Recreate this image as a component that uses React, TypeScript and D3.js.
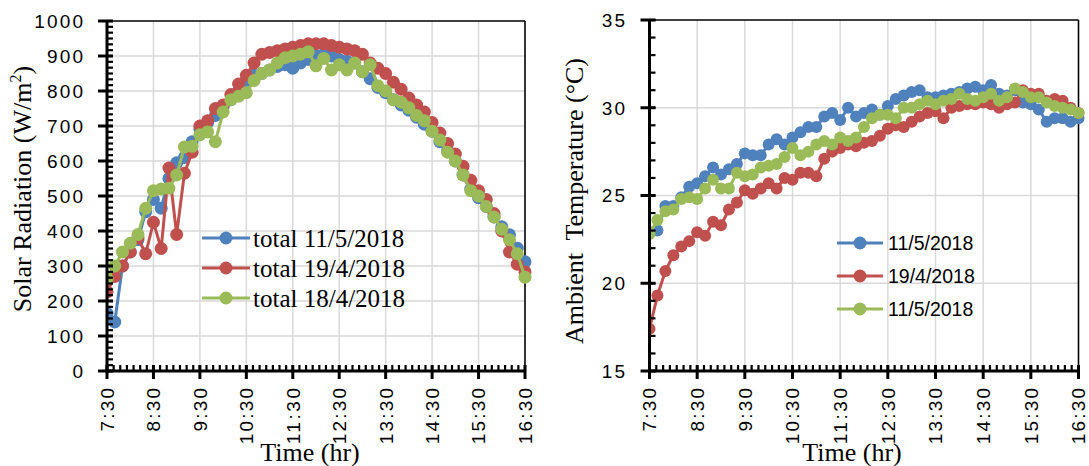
import React from 'react';
import * as d3 from 'd3';

const times = ["7:30","7:40","7:50","8:00","8:10","8:20","8:30","8:40","8:50","9:00","9:10","9:20","9:30","9:40","9:50","10:00","10:10","10:20","10:30","10:40","10:50","11:00","11:10","11:20","11:30","11:40","11:50","12:00","12:10","12:20","12:30","12:40","12:50","13:00","13:10","13:20","13:30","13:40","13:50","14:00","14:10","14:20","14:30","14:40","14:50","15:00","15:10","15:20","15:30","15:40","15:50","16:00","16:10","16:20","16:30"];

const radiation_11_5 = [165,140,300,340,375,455,490,465,550,595,610,655,690,710,730,755,775,800,830,845,850,860,870,875,865,880,890,900,905,900,890,885,880,855,835,810,795,775,760,745,725,705,685,655,630,600,560,520,495,470,440,412,389,351,312];
const radiation_19_4 = [226,270,300,340,380,335,425,350,580,390,565,625,700,715,750,760,790,820,845,880,905,910,915,920,925,930,935,935,935,930,925,920,915,905,880,865,850,825,805,780,760,740,710,680,650,620,585,545,515,490,450,400,340,305,283];
const radiation_18_4 = [265,300,340,365,390,465,515,520,522,560,640,642,675,683,655,740,775,785,795,830,850,860,880,895,900,905,912,872,893,860,875,860,880,855,875,815,800,775,768,752,730,715,685,660,625,600,560,515,500,470,440,405,375,335,268];

const temp_11_5 = [22.9,23.0,24.4,24.4,24.9,25.5,25.7,26.1,26.6,26.2,26.5,26.8,27.4,27.3,27.3,27.9,28.2,27.9,28.3,28.6,28.9,28.9,29.5,29.7,29.3,30.0,29.5,29.7,29.9,29.6,30.1,30.5,30.7,30.9,31.0,30.6,30.6,30.7,30.8,30.9,31.1,31.2,31.0,31.3,30.8,30.7,31.0,30.3,30.2,29.9,29.2,29.4,29.4,29.2,29.4];
const temp_19_4 = [17.4,19.3,20.7,21.6,22.1,22.4,22.9,22.7,23.5,23.3,24.2,24.6,25.3,25.1,25.4,25.7,25.4,26.0,25.9,26.3,26.3,26.1,27.1,27.5,27.7,27.9,27.8,28.0,28.1,28.4,28.8,29.0,28.9,29.2,29.5,29.7,29.8,29.4,30.0,30.1,30.2,30.2,30.3,30.2,30.0,30.2,30.3,31.0,30.8,30.8,30.4,30.5,30.4,30.0,29.7];
const temp_11_5b = [22.8,23.6,24.1,24.2,24.8,24.9,24.8,25.4,25.9,25.4,25.4,26.3,26.1,26.2,26.6,26.7,26.8,27.2,27.7,27.3,27.5,27.9,28.1,27.9,28.3,28.1,28.3,28.9,29.4,29.6,29.6,29.4,30.0,30.0,30.2,30.4,30.2,30.4,30.5,30.8,30.5,30.4,30.6,30.8,30.4,30.6,31.1,30.9,30.6,30.6,30.3,30.1,30.0,29.9,29.7];

const xTickLabels = ["7:30","8:30","9:30","10:30","11:30","12:30","13:30","14:30","15:30","16:30"];
const radTicks = [0,100,200,300,400,500,600,700,800,900,1000];
const tempTicks = [15,20,25,30,35];

const radLegend = ["total 11/5/2018","total 19/4/2018","total 18/4/2018"];
const tempLegend = ["11/5/2018","19/4/2018","11/5/2018"];
const colors = ["#4F81BD","#C0504D","#9BBB59"];

const toMin = (s: string) => { const [h, m] = s.split(':').map(Number); return h * 60 + m; };

const SANS = "'Liberation Sans', Arial, sans-serif";
const SERIF = "'Liberation Serif', 'Times New Roman', serif";
const TICK_FS = 19;

// widen tick labels slightly (reference glyphs are wider than Liberation Sans)
const tickLen = (s: string) => {
  let w = 0;
  for (const c of s) w += (c === ':' ? 0.278 : 0.556) * TICK_FS;
  return w + 2.2 * (s.length - 1);
};

type ChartProps = {
  id: string;
  x0: number; x1: number; top: number; bottom: number;
  domain: [number, number];
  ticks: number[];
  minorPerMajor: number;
  series: number[][];
  r: number;
  yLabelX: number;
  legend: { labels: string[]; rows: number[]; lx0: number; lx1: number; tx: number; font: string; size: number; base: number; r: number };
  yTitle: React.ReactNode;
  yTitleX: number; yTitleY: number;
  xTitleX: number;
};

function Chart(p: ChartProps) {
  const x = d3.scaleLinear().domain([toMin("7:30"), toMin("16:30")]).range([p.x0, p.x1]);
  const y = d3.scaleLinear().domain(p.domain).range([p.bottom, p.top]);
  const majorX = xTickLabels.map(toMin);
  const minorX: number[] = [];
  for (let k = 0; k <= 63; k++) minorX.push(toMin("7:30") + k * 60 / 7);
  const step = (p.ticks[1] - p.ticks[0]) / p.minorPerMajor;
  const minorY: number[] = [];
  for (let v = p.domain[0]; v <= p.domain[1] + 1e-9; v += step) minorY.push(v);
  const line = d3.line<number>().x((_, i) => x(toMin(times[i]))).y(d => y(d));
  const grid = "#d9d9d9";
  return (
    <g>
      <defs>
        <clipPath id={p.id}>
          <rect x={p.x0} y={p.top - 8} width={p.x1 - p.x0 + 8} height={p.bottom - p.top + 8} />
        </clipPath>
      </defs>
      {majorX.slice(1, -1).map((m, i) => (
        <line key={'gx' + i} x1={x(m)} x2={x(m)} y1={p.top} y2={p.bottom} stroke={grid} strokeWidth={1.5} />
      ))}
      {p.ticks.slice(1, -1).map((t, i) => (
        <line key={'gy' + i} x1={p.x0} x2={p.x1} y1={y(t)} y2={y(t)} stroke={grid} strokeWidth={1.5} />
      ))}
      <line x1={p.x0} x2={p.x1} y1={p.top} y2={p.top} stroke="#000" strokeWidth={1.6} />
      <line x1={p.x1} x2={p.x1} y1={p.top} y2={p.bottom} stroke="#000" strokeWidth={1.6} />
      {p.legend.labels.map((lab, i) => (
        <g key={'lg' + i}>
          <line x1={p.legend.lx0} x2={p.legend.lx1} y1={p.legend.rows[i]} y2={p.legend.rows[i]} stroke={colors[i]} strokeWidth={3} />
          <circle cx={(p.legend.lx0 + p.legend.lx1) / 2} cy={p.legend.rows[i]} r={p.legend.r} fill={colors[i]} />
          <text x={p.legend.tx} y={p.legend.rows[i] + p.legend.base} fontFamily={p.legend.font} fontSize={p.legend.size} fill="#000">{lab}</text>
        </g>
      ))}
      <g clipPath={`url(#${p.id})`}>
        {p.series.map((s, si) => (
          <g key={'s' + si}>
            <path d={line(s) || ''} fill="none" stroke={colors[si]} strokeWidth={3} strokeLinejoin="round" />
            {s.map((v, i) => (
              <circle key={i} cx={x(toMin(times[i]))} cy={y(v)} r={p.r} fill={colors[si]} />
            ))}
          </g>
        ))}
      </g>
      <line x1={p.x0} x2={p.x0} y1={p.top} y2={p.bottom + 1.5} stroke="#000" strokeWidth={3} />
      <line x1={p.x0 - 1.5} x2={p.x1 + 1} y1={p.bottom} y2={p.bottom} stroke="#000" strokeWidth={3} />
      {minorY.map((v, i) => (
        <line key={'my' + i} x1={p.x0} x2={p.x0 + 6} y1={y(v)} y2={y(v)} stroke="#000" strokeWidth={2.2} />
      ))}
      {p.ticks.map((t, i) => (
        <g key={'ty' + i}>
          <line x1={p.x0 - 9} x2={p.x0 + 6} y1={y(t)} y2={y(t)} stroke="#000" strokeWidth={3} />
          <text x={p.yLabelX} y={y(t)} dy="0.36em" textAnchor="end" fontFamily={SANS} fontSize={TICK_FS}
            textLength={tickLen(String(t))} lengthAdjust="spacing" fill="#000">{t}</text>
        </g>
      ))}
      {minorX.map((m, i) => (
        <line key={'mx' + i} x1={x(m)} x2={x(m)} y1={p.bottom - 6} y2={p.bottom} stroke="#000" strokeWidth={2.2} />
      ))}
      {majorX.map((m, i) => (
        <g key={'tx' + i}>
          <line x1={x(m)} x2={x(m)} y1={p.bottom - 6} y2={p.bottom + 8} stroke="#000" strokeWidth={3} />
          <text transform={`translate(${x(m)},${p.bottom + 17}) rotate(-90)`} dy="0.36em" textAnchor="end" fontFamily={SANS} fontSize={TICK_FS}
            textLength={tickLen(xTickLabels[i])} lengthAdjust="spacing" fill="#000">{xTickLabels[i]}</text>
        </g>
      ))}
      <text transform={`translate(${p.yTitleX},${p.yTitleY}) rotate(-90)`} textAnchor="middle" fontFamily={SERIF} fontSize={26} fill="#000" style={{ whiteSpace: 'pre' }}>{p.yTitle}</text>
      <text x={p.xTitleX} y={461} textAnchor="middle" fontFamily={SERIF} fontSize={26} fill="#000">Time (hr)</text>
    </g>
  );
}

export default function App() {
  return (
    <svg width={1089} height={466} style={{ position: 'absolute', left: 0, top: 0, background: '#fff' }}>
      <rect x={0} y={0} width={1089} height={466} fill="#fff" />
      <Chart
        id="clipL"
        x0={107} x1={525} top={21} bottom={371}
        domain={[0, 1000]} ticks={radTicks} minorPerMajor={6}
        series={[radiation_11_5, radiation_19_4, radiation_18_4]}
        r={6.5}
        yLabelX={83}
        legend={{ labels: radLegend, rows: [238, 268, 298], lx0: 202, lx1: 250, tx: 253, font: SERIF, size: 25, base: 8.5, r: 6.5 }}
        yTitle={<>Solar Radiation (W/m<tspan dy={-10} fontSize={16}>2</tspan><tspan dy={10}>)</tspan></>}
        yTitleX={31} yTitleY={189}
        xTitleX={310}
      />
      <Chart
        id="clipR"
        x0={649.5} x1={1078.5} top={20} bottom={371}
        domain={[15, 35]} ticks={tempTicks} minorPerMajor={5}
        series={[temp_11_5, temp_19_4, temp_11_5b]}
        r={6}
        yLabelX={625}
        legend={{ labels: tempLegend, rows: [243, 276, 309], lx0: 837, lx1: 883, tx: 888, font: SANS, size: 19.5, base: 7, r: 6.5 }}
        yTitle={"Ambient  Temperature (°C)"}
        yTitleX={583} yTitleY={201}
        xTitleX={852}
      />
    </svg>
  );
}
